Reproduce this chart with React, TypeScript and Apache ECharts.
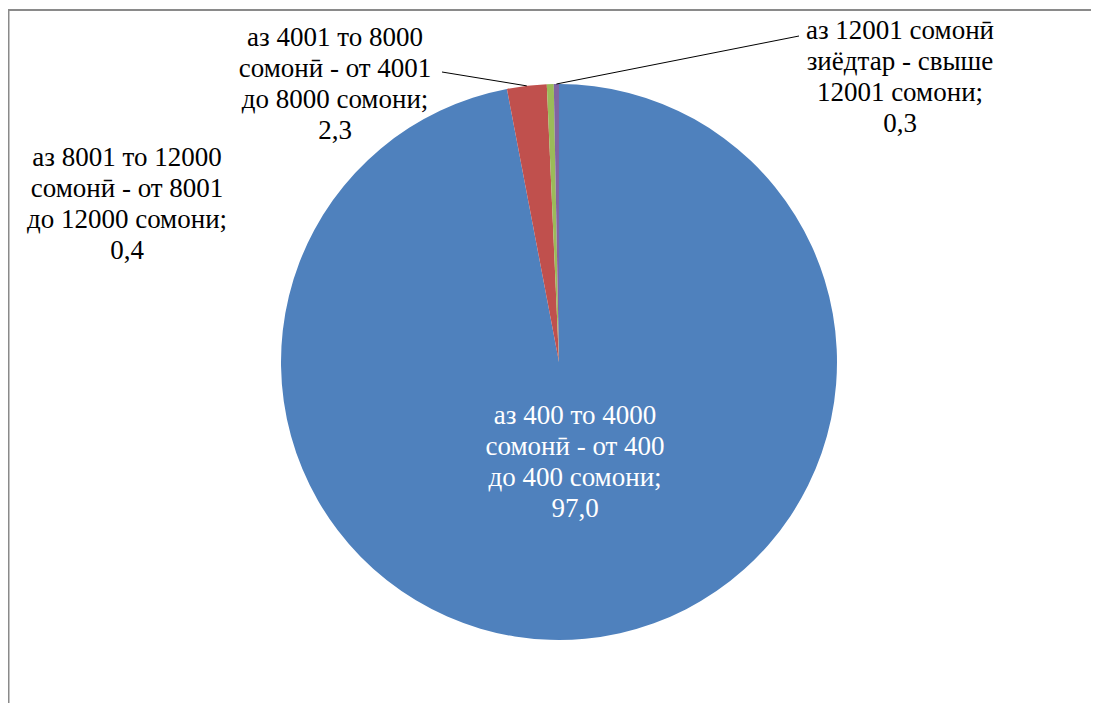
import React, { useEffect, useRef } from 'react';
import * as echarts from 'echarts';

const categories = [
  'аз 400 то 4000 сомонӣ - от 400 до 400 сомони',
  'аз 4001 то 8000 сомонӣ - от 4001 до 8000 сомони',
  'аз 8001 то 12000 сомонӣ - от 8001 до 12000 сомони',
  'аз 12001 сомонӣ зиёдтар - свыше 12001 сомони',
];
const values = [97.0, 2.3, 0.4, 0.3];
const labelTextLines = [
  ['аз 400 то 4000', 'сомонӣ - от 400', 'до 400 сомони;'],
  ['аз 4001 то 8000', 'сомонӣ - от 4001', 'до 8000 сомони;'],
  ['аз 8001 то 12000', 'сомонӣ - от 8001', 'до 12000 сомони;'],
  ['аз 12001 сомонӣ', 'зиёдтар - свыше', '12001 сомони;'],
];
const colors = ['#4F81BD', '#C0504D', '#9BBB59', '#8064A2'];
const textColors = ['#ffffff', '#000000', '#000000', '#000000'];

// layout (chart coordinates; the chart div sits at the page's 8px body margin)
const CENTER = [551, 354];
const RADIUS = 278;
const labelCenters = [
  [567, 453],
  [327, 75],
  [119, 195],
  [892, 68],
];
const leaderEnds: (number[] | null)[] = [null, [434, 64], null, [791, 28]];
const FONT = 'serif';

function fmt(v: number) {
  return v.toFixed(1).replace('.', ',');
}

export default function App() {
  const ref = useRef<HTMLDivElement>(null);
  useEffect(() => {
    if (!ref.current) return;
    const chart = echarts.init(ref.current, undefined, { renderer: 'svg' });
    const total = values.reduce((a, b) => a + b, 0);
    let cum = 0;
    const anchors = values.map((v) => {
      const f = (cum + v / 2) / total;
      cum += v;
      const ang = f * Math.PI * 2;
      return [CENTER[0] + RADIUS * Math.sin(ang), CENTER[1] - RADIUS * Math.cos(ang)];
    });
    const texts = categories.map((_, i) => ({
      type: 'text',
      z: 100,
      x: labelCenters[i][0],
      y: labelCenters[i][1],
      silent: true,
      style: {
        text: labelTextLines[i].concat([fmt(values[i])]).join('\n'),
        fontFamily: FONT,
        fontSize: 27,
        lineHeight: 31,
        fill: textColors[i],
        align: 'center',
        verticalAlign: 'middle',
      },
    }));
    const lines: any[] = [];
    leaderEnds.forEach((e, i) => {
      if (!e) return;
      lines.push({
        type: 'line',
        z: 100,
        silent: true,
        shape: { x1: anchors[i][0], y1: anchors[i][1], x2: e[0], y2: e[1] },
        style: { stroke: '#000000', lineWidth: 1 },
      });
    });
    chart.setOption({
      animation: false,
      graphic: [
        {
          type: 'rect',
          shape: { x: 0.5, y: 2, width: 1300, height: 900 },
          style: { fill: 'none', stroke: '#8a8a8a', lineWidth: 2 },
          silent: true,
        },
        ...lines,
        ...texts,
      ],
      series: [
        {
          type: 'pie',
          center: CENTER,
          radius: RADIUS,
          startAngle: 90,
          clockwise: true,
          avoidLabelOverlap: false,
          label: { show: false },
          labelLine: { show: false },
          data: categories.map((name, i) => ({
            name,
            value: values[i],
            itemStyle: { color: colors[i] },
          })),
        },
      ],
    });
    return () => chart.dispose();
  }, []);
  return (
    <div
      ref={ref}
      style={{ width: 1083, height: 695, fontFamily: "'Liberation Serif', serif" }}
    />
  );
}
